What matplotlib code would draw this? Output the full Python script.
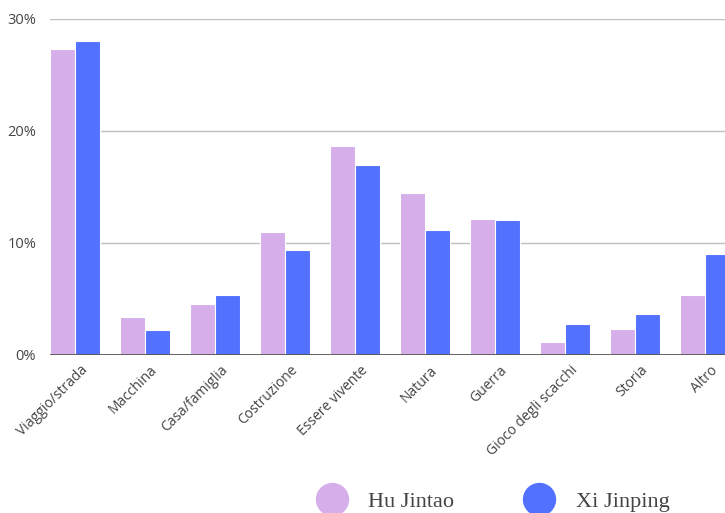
import numpy as np
import matplotlib.pyplot as plt
import matplotlib.transforms as mtransforms
from matplotlib.lines import Line2D
from matplotlib.ticker import FuncFormatter

categories = ["Viaggio/strada", "Macchina", "Casa/famiglia", "Costruzione",
              "Essere vivente", "Natura", "Guerra", "Gioco degli scacchi",
              "Storia", "Altro"]
hu_jintao = [27.3, 3.4, 4.55, 11.0, 18.7, 14.5, 12.1, 1.2, 2.3, 5.4]
xi_jinping = [28.0, 2.2, 5.4, 9.4, 17.0, 11.2, 12.05, 2.8, 3.7, 9.0]
series_names = ["Hu Jintao", "Xi Jinping"]

HU_COLOR = "#D5AEEA"
XI_COLOR = "#5271FF"

fig = plt.figure(figsize=(7.25, 5.13), dpi=100)
ax = fig.add_axes([50/725, 1-355/513, 1-50/725, (355-19)/513])

x = np.arange(len(categories))
w = 25/70
ax.bar(x - w/2, hu_jintao, w, color=HU_COLOR, edgecolor="white", linewidth=0.8, zorder=3)
ax.bar(x + w/2, xi_jinping, w, color=XI_COLOR, edgecolor="white", linewidth=0.8, zorder=3)

ax.set_xlim(-w, len(categories) - 1 + 20/70)
ax.set_ylim(0, 30)
ax.set_yticks([0, 10, 20, 30])
ax.yaxis.set_major_formatter(FuncFormatter(lambda v, p: f"{int(v)}%"))
ax.grid(axis="y", color="#c0c0c0", linewidth=1, zorder=0)
ax.axhline(0, color="#555555", linewidth=2, zorder=4)

for s in ax.spines.values():
    s.set_visible(False)
ax.tick_params(length=0, labelcolor="#444444")
ax.tick_params(axis="y", labelsize=10.5, pad=10)
ax.set_xticks(x)
ax.set_xticklabels(categories, rotation=45, ha="right", rotation_mode="anchor",
                   fontsize=10, family="Open Sans")
shift = mtransforms.ScaledTranslation(5/100, -3/100, fig.dpi_scale_trans)
for t in ax.get_xticklabels():
    t.set_transform(t.get_transform() + shift)
for t in ax.get_yticklabels():
    t.set_family("Open Sans")

handles = [Line2D([], [], linestyle="none", marker="o", markersize=24,
                  markerfacecolor=c, markeredgecolor="none")
           for c in (HU_COLOR, XI_COLOR)]
fig.legend(handles, series_names, loc="center", bbox_to_anchor=(0.675, 0.022),
           ncol=2, frameon=False, handletextpad=0.65, columnspacing=2.8,
           prop={"family": "Liberation Serif", "size": 16}, labelcolor="#444444")

fig.savefig("out.png", dpi=100)
